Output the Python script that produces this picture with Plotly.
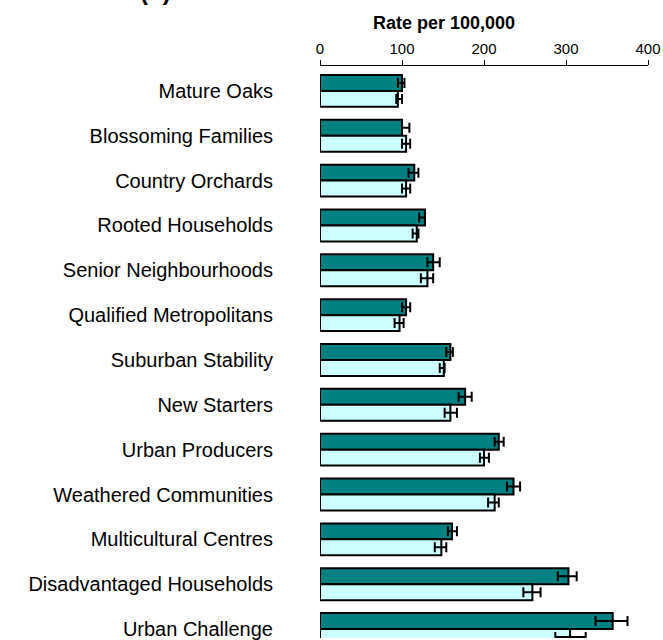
import plotly.graph_objects as go

# Segment names, top to bottom
groups = [
    "Mature Oaks",
    "Blossoming Families",
    "Country Orchards",
    "Rooted Households",
    "Senior Neighbourhoods",
    "Qualified Metropolitans",
    "Suburban Stability",
    "New Starters",
    "Urban Producers",
    "Weathered Communities",
    "Multicultural Centres",
    "Disadvantaged Households",
    "Urban Challenge",
]

# Series 1 (dark): rate per 100,000 with lower / upper confidence limits
rate_dark = [100, 100, 115, 128, 138, 105, 159, 177, 218, 236, 161, 303, 357]
lo_dark = [95, 100, 108, 121, 131, 100, 154, 169, 213, 228, 156, 290, 336]
hi_dark = [103, 109, 120, 128, 146, 110, 162, 185, 224, 244, 167, 313, 375]

# Series 2 (light): rate per 100,000 with lower / upper confidence limits
rate_light = [95, 105, 105, 118, 131, 97, 151, 159, 200, 213, 148, 259, 305]
lo_light = [93, 100, 100, 113, 123, 91, 146, 152, 195, 205, 140, 248, 287]
hi_light = [100, 110, 110, 120, 138, 102, 152, 167, 206, 218, 154, 269, 324]

x_ticks = [0, 100, 200, 300, 400]

FONT = "Liberation Sans, Arial, sans-serif"


def err(values, lo, hi):
    return dict(
        type="data",
        symmetric=False,
        array=[h - v for v, h in zip(values, hi)],
        arrayminus=[v - l for v, l in zip(values, lo)],
        color="black",
        thickness=2,
        width=5,
    )


fig = go.Figure()
fig.add_trace(go.Bar(
    y=groups, x=rate_dark, orientation="h",
    marker=dict(color="#008080", line=dict(color="black", width=2)),
    error_x=err(rate_dark, lo_dark, hi_dark),
    hoverinfo="x+y",
))
fig.add_trace(go.Bar(
    y=groups, x=rate_light, orientation="h",
    marker=dict(color="#CCFFFF", line=dict(color="black", width=2)),
    error_x=err(rate_light, lo_light, hi_light),
    hoverinfo="x+y",
))

W, H = 663, 640
M_L, M_R, M_T, M_B = 320, 15, 66, 0
plot_h = H - M_T - M_B
plot_w = W - M_L - M_R


def py(pixel_y):
    return 1 - (pixel_y - M_T) / plot_h


def px(pixel_x):
    return (pixel_x - M_L) / plot_w


fig.update_layout(
    width=W, height=H,
    margin=dict(l=M_L, r=M_R, t=M_T, b=M_B, pad=0),
    barmode="group", bargap=0.289, bargroupgap=0,
    plot_bgcolor="white", paper_bgcolor="white",
    showlegend=False,
    font=dict(family=FONT, color="black"),
    annotations=[
        dict(text="<b>Rate per 100,000</b>", xref="paper", yref="paper",
             x=px(444), y=py(23), xanchor="center", yanchor="middle",
             showarrow=False, font=dict(size=18, family=FONT, color="black")),
        dict(text="<b>(b)</b>", xref="paper", yref="paper",
             x=px(155), y=py(-9), xanchor="center", yanchor="middle",
             showarrow=False, font=dict(size=24, family=FONT, color="black")),
    ],
)

fig.update_xaxes(
    side="top", range=[0, 400], tickvals=x_ticks,
    ticks="outside", ticklen=5, tickcolor="black", tickwidth=1,
    showline=True, linecolor="black", linewidth=1,
    showgrid=False, zeroline=False,
    tickfont=dict(size=15, family=FONT, color="black"),
)
fig.update_yaxes(
    range=[12.2, -(91 - M_T) / 45],
    showgrid=False, showline=False, zeroline=False, ticks="",
    tickfont=dict(size=20, family=FONT, color="black"),
    ticklabelstandoff=46,
)

fig.write_html("out.html")
